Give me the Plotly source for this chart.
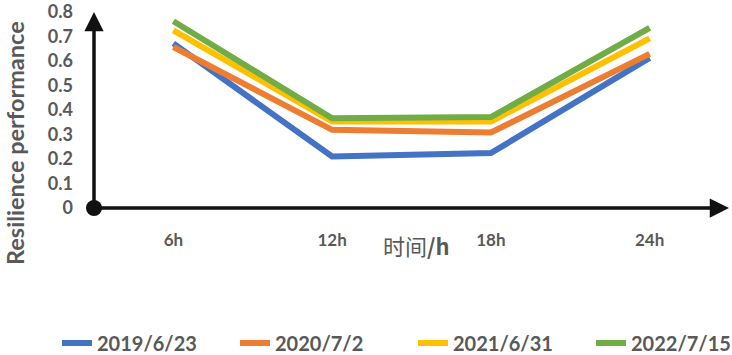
import plotly.graph_objects as go

categories = ["6h", "12h", "18h", "24h"]
series_names = ["2019/6/23", "2020/7/2", "2021/6/31", "2022/7/15"]
s2019 = [0.672, 0.210, 0.224, 0.613]
s2020 = [0.657, 0.319, 0.308, 0.629]
s2021 = [0.725, 0.353, 0.353, 0.692]
s2022 = [0.762, 0.366, 0.371, 0.735]
colors = ["#4472C4", "#ED7D31", "#FFC000", "#70AD47"]
y_ticks = [0, 0.1, 0.2, 0.3, 0.4, 0.5, 0.6, 0.7, 0.8]
y_ticklabels = ["0", "0.1", "0.2", "0.3", "0.4", "0.5", "0.6", "0.7", "0.8"]

GREY = "#595959"
FONT = "Lato"

fig = go.Figure()
for name, vals, col in zip(series_names, [s2019, s2020, s2021, s2022], colors):
    fig.add_trace(go.Scatter(x=categories, y=vals, mode="lines", name=name,
                             line=dict(color=col, width=6)))

fig.update_layout(
    width=732, height=355,
    margin=dict(l=94, r=3, t=12, b=147, autoexpand=False),
    plot_bgcolor="white", paper_bgcolor="white",
    showlegend=True,
    legend=dict(orientation="h", x=(57 - 94) / 635, xanchor="left", y=-(343 - 208) / 196,
                yanchor="middle",
                font=dict(family=FONT, size=20, color=GREY, weight="bold"),
                itemwidth=30, entrywidth=133, entrywidthmode="pixels",
                tracegroupgap=0),
    xaxis=dict(type="category", range=[-0.5, 3.5], showgrid=False, zeroline=False,
               showline=False, ticks="", ticklabelstandoff=20,
               tickfont=dict(family=FONT, size=17, color=GREY, weight="bold")),
    yaxis=dict(range=[0, 0.8], tickvals=y_ticks, ticktext=y_ticklabels,
               showgrid=False, zeroline=False, showline=False, ticks="",
               ticklabelstandoff=20,
               tickfont=dict(family=FONT, size=18, color=GREY, weight="bold")),
)

# axis arrows
fig.add_annotation(x=-0.5, y=0.8, ax=-0.5, ay=0, xref="x", yref="y", axref="x", ayref="y",
                   text="", showarrow=True, arrowhead=2, arrowsize=1.1, arrowwidth=3.5,
                   arrowcolor="#111111")
fig.add_annotation(x=3.5, y=0, ax=-0.5, ay=0, xref="x", yref="y", axref="x", ayref="y",
                   text="", showarrow=True, arrowhead=2, arrowsize=1.1, arrowwidth=3.5,
                   arrowcolor="#111111")
# origin dot
fig.add_shape(type="circle", xref="paper", yref="paper", xsizemode="pixel", ysizemode="pixel",
              xanchor=0, yanchor=0, x0=-8, x1=8, y0=-8, y1=8,
              fillcolor="#111111", line=dict(width=0))

# axis titles
fig.add_annotation(xref="paper", yref="paper", x=(416 - 94) / 635, y=(208 - 245) / 196,
                   text="时间<b>/h</b>", showarrow=False, xanchor="center", yanchor="middle",
                   font=dict(family="Noto Sans CJK SC", size=22, color=GREY))
fig.add_annotation(xref="paper", yref="paper", x=(15 - 94) / 635, y=(208 - 143) / 196,
                   text="Resilience performance", textangle=-90, showarrow=False,
                   xanchor="center", yanchor="middle",
                   font=dict(family=FONT, size=23.5, color=GREY, weight="bold"))

fig.write_html("out.html")
